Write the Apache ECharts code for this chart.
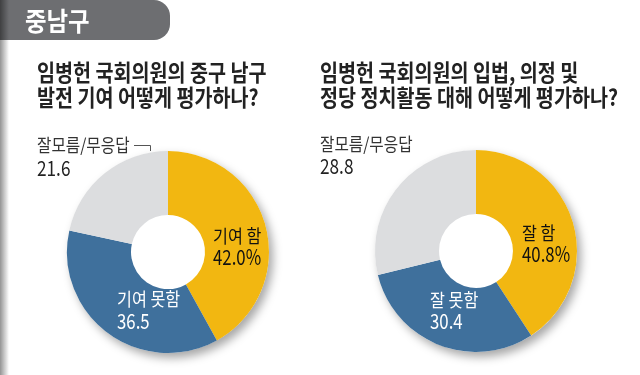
<!DOCTYPE html>
<html><head><meta charset="utf-8">
<script src="https://cdn.jsdelivr.net/npm/echarts@6/dist/echarts.min.js"></script>
<style>html,body{margin:0;padding:0;background:#fff;}#c{width:640px;height:375px;}</style>
</head><body><div id="c"></div>
<script>
const regionTitle = '중남구';
const leftTitle = ['임병헌 국회의원의 중구 남구', '발전 기여 어떻게 평가하나?'];
const rightTitle = ['임병헌 국회의원의 입법, 의정 및', '정당 정치활동 대해 어떻게 평가하나?'];
const leftCategories = ['기여 함', '기여 못함', '잘모름/무응답'];
const leftValues = [42.0, 36.5, 21.6];
const rightCategories = ['잘 함', '잘 못함', '잘모름/무응답'];
const rightValues = [40.8, 30.4, 28.8];
const colors = ['#F2B711', '#3F709C', '#DCDDDF'];

const FONT = "'Noto Sans CJK KR', 'Noto Sans', sans-serif";
const chart = echarts.init(document.getElementById('c'), null, {renderer: 'canvas'});

function txt(text, x, y, size, weight, fill, sx) {
  return {
    type: 'text', x: x, y: y, scaleX: sx || 0.86, z: 100,
    style: {text: text, x: 0, y: 0, fill: fill, textAlign: 'left', textVerticalAlign: 'middle',
      font: weight + ' ' + size + 'px ' + FONT}
  };
}
function fmt(v, i) { return i === 0 ? v.toFixed(1) + '%' : v.toFixed(1); }

function donut(center, cats, vals) {
  return [{
    type: 'pie', silent: true, center: center, radius: [0, 101], z: 1,
    label: {show: false}, labelLine: {show: false},
    itemStyle: {color: '#fff', shadowBlur: 10, shadowOffsetX: 4, shadowOffsetY: 5, shadowColor: 'rgba(0,0,0,0.35)'},
    data: [{value: vals.reduce((a, b) => a + b, 0), name: 'bg'}]
  }, {
    type: 'pie', silent: true, center: center, radius: [37, 101], startAngle: 90, clockwise: true, z: 2,
    label: {show: false}, labelLine: {show: false},
    itemStyle: {borderWidth: 0},
    data: cats.map((c, i) => ({name: c, value: vals[i], itemStyle: {color: colors[i]}}))
  }];
}

const graphic = [
  {type: 'rect', shape: {x: -30, y: 0, width: 200, height: 40, r: [0, 16, 16, 0]}, style: {fill: '#6D6E71'}, z: 5},
  {type: 'rect', shape: {x: 0, y: 0, width: 9, height: 375},
    style: {fill: new echarts.graphic.LinearGradient(0, 0, 1, 0, [{offset: 0, color: 'rgba(0,0,0,0.42)'}, {offset: 1, color: 'rgba(0,0,0,0)'}])}, z: 6},
  txt(regionTitle, 25, 21, 26, 'bold', '#fff', 0.9),
  txt(leftTitle[0], 37, 72, 22.5, 'bold', '#222', 0.87),
  txt(leftTitle[1], 37, 97, 22.5, 'bold', '#222', 0.87),
  txt(rightTitle[0], 320, 72, 22.5, 'bold', '#222', 0.87),
  txt(rightTitle[1], 320, 97, 22.5, 'bold', '#222', 0.87),
  txt(leftCategories[2], 37, 145, 18, 'normal', '#333', 0.87),
  txt(fmt(leftValues[2], 2), 37, 168, 21, 'normal', '#222', 0.82),
  txt(rightCategories[2], 320, 144, 18, 'normal', '#333', 0.87),
  txt(fmt(rightValues[2], 2), 320, 166, 21, 'normal', '#222', 0.82),
  {type: 'polyline', shape: {points: [[134, 145.5], [150.5, 145.5], [150.5, 151]]}, style: {stroke: '#555', lineWidth: 1, fill: null}, z: 50},
  txt(leftCategories[0], 213, 236, 18, 'normal', '#111', 0.9),
  txt(fmt(leftValues[0], 0), 213, 257, 21, 'normal', '#111', 0.8),
  txt(leftCategories[1], 117, 299, 18, 'normal', '#fff', 0.9),
  txt(fmt(leftValues[1], 1), 117, 321, 21, 'normal', '#fff', 0.8),
  txt(rightCategories[0], 522, 233, 18, 'normal', '#111', 0.9),
  txt(fmt(rightValues[0], 0), 522, 254, 21, 'normal', '#111', 0.8),
  txt(rightCategories[1], 430, 300, 18, 'normal', '#fff', 0.9),
  txt(fmt(rightValues[1], 1), 430, 321, 21, 'normal', '#fff', 0.8)
];

chart.setOption({
  backgroundColor: '#fff',
  animation: false,
  series: donut([168, 252], leftCategories, leftValues).concat(donut([476, 251], rightCategories, rightValues)),
  graphic: graphic
});
</script></body></html>
